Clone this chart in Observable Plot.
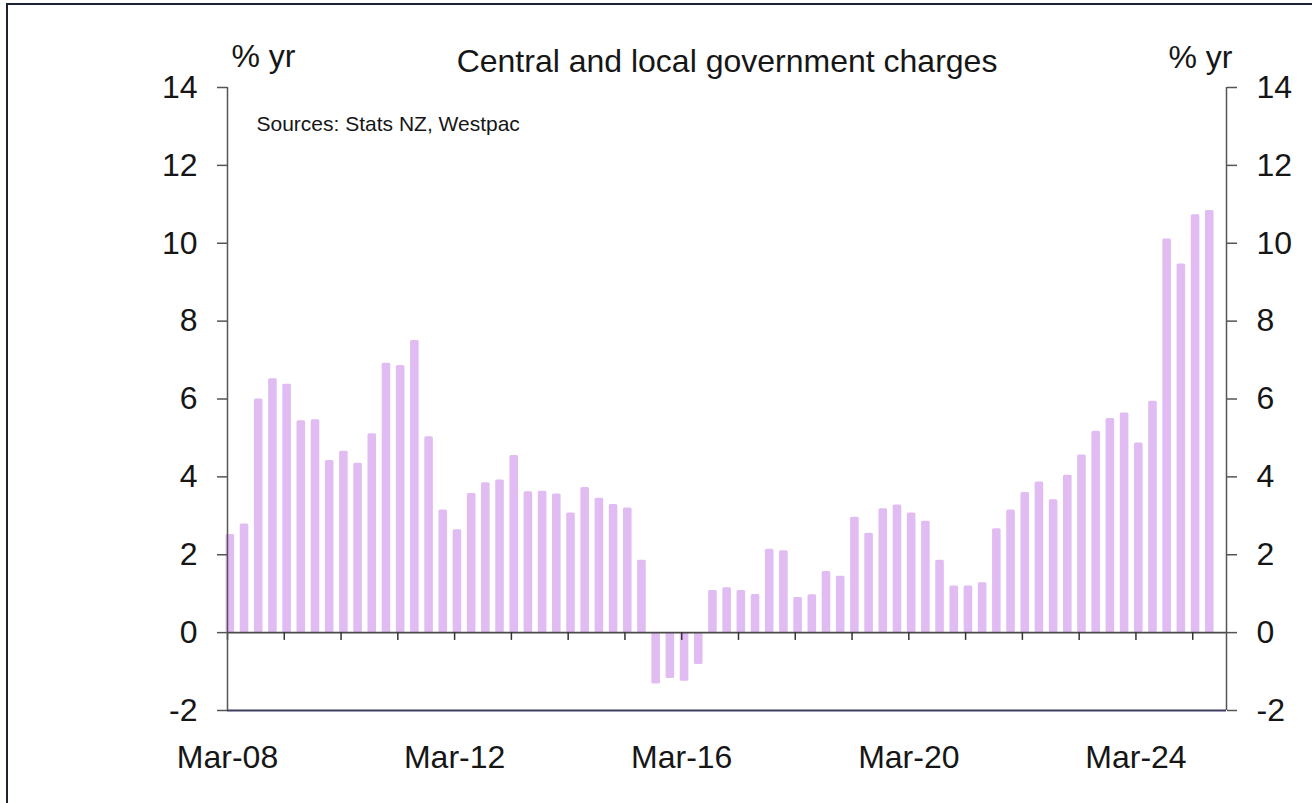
<!DOCTYPE html>
<html>
<head>
<meta charset="utf-8">
<script src="https://cdn.jsdelivr.net/npm/d3@7"></script>
<script src="https://cdn.jsdelivr.net/npm/@observablehq/plot@0.6"></script>
<style>
  html, body { margin: 0; padding: 0; background: #fff; }
  #wrap { position: relative; width: 1312px; height: 803px; overflow: hidden; }
  #border { position: absolute; left: 6px; top: 3px; right: -10px; bottom: -10px;
            border-top: 2.5px solid #1c2135; border-left: 2.5px solid #1c2135; pointer-events: none; }
  svg { display: block; }
</style>
</head>
<body>
<div id="wrap"><div id="chart"></div><div id="border"></div></div>
<script>
// ---- Data ----
const title = "Central and local government charges";
const unitLabel = "% yr";
const sourceNote = "Sources: Stats NZ, Westpac";
const firstYear = 2008;           // first quarter is Mar-08
const quarterMonths = ["Mar", "Jun", "Sep", "Dec"];
// annual % change, quarterly, Mar-08 .. Jun-25
const values = [
  2.52, 2.79, 6.00, 6.52, 6.38, 5.44, 5.47, 4.42, 4.66, 4.35,
  5.11, 6.92, 6.86, 7.50, 5.03, 3.15, 2.64, 3.57, 3.85, 3.92,
  4.55, 3.62, 3.63, 3.56, 3.07, 3.73, 3.45, 3.29, 3.20, 1.86,
  -1.32, -1.18, -1.25, -0.82, 1.08, 1.15, 1.08, 0.98, 2.14, 2.10,
  0.90, 0.97, 1.57, 1.45, 2.96, 2.55, 3.18, 3.28, 3.07, 2.86,
  1.86, 1.20, 1.20, 1.28, 2.67, 3.15, 3.60, 3.87, 3.41, 4.04,
  4.56, 5.17, 5.50, 5.64, 4.87, 5.94, 10.11, 9.47, 10.73, 10.84
];
const yTicks = [-2, 0, 2, 4, 6, 8, 10, 12, 14];
const xTickLabels = ["Mar-08", "Mar-12", "Mar-16", "Mar-20", "Mar-24"];

// ---- Build table ----
const quarters = values.map((v, i) =>
  quarterMonths[i % 4] + "-" + String((firstYear + Math.floor(i / 4)) % 100).padStart(2, "0"));
const rows = values.map((v, i) => ({i, label: quarters[i], v}));
const tickShift = -0.2;                       // axis ticks sit just left of bar centres
const yearTicks = rows.filter(d => d.i % 4 === 0).map(d => d.i + tickShift);
const labelRows = xTickLabels.map(l => ({label: l, x: quarters.indexOf(l) + tickShift}));

const font = "'Liberation Sans', Arial, Helvetica, sans-serif";
const ink = "#161616";
const axisGray = "#555";
const fmt = d => String(d);

const chart = Plot.plot({
  width: 1312,
  height: 803,
  marginLeft: 227,
  marginRight: 86,
  marginTop: 87,
  marginBottom: 93,
  x: {domain: [tickShift, values.length + 0.18], axis: null, label: null},
  y: {domain: [-2, 14], axis: null, label: null},
  style: {fontFamily: font, background: "transparent", overflow: "visible", color: ink},
  marks: [
    // bars
    Plot.rectY(rows, {
      x1: d => d.i - 0.5, x2: d => d.i + 0.5, y1: 0, y2: "v",
      insetLeft: 2.8, insetRight: 2.8, fill: "#e1bcf3", rx: 1.5
    }),
    // zero line
    Plot.ruleY([0], {stroke: "#4a4a4a", strokeWidth: 1.6}),
    // year ticks below zero line
    Plot.ruleX(yearTicks, {x: d => d, y1: 0, y2: -0.2, stroke: "#333", strokeWidth: 1.5}),
    // left/right axis lines
    Plot.ruleX([tickShift, values.length + 0.18], {y1: -2, y2: 14, stroke: axisGray, strokeWidth: 1.5}),
    // bottom line at -2
    Plot.ruleY([-2], {stroke: "#3d3d5e", strokeWidth: 2}),
    // y tick marks
    Plot.axisY(yTicks, {anchor: "left", label: null, tickSize: 10, tickFormat: () => "", stroke: axisGray, strokeWidth: 1.5}),
    Plot.axisY(yTicks, {anchor: "right", label: null, tickSize: 10, tickFormat: () => "", stroke: axisGray, strokeWidth: 1.5}),
    // y tick labels
    Plot.axisY(yTicks, {anchor: "left", label: null, tickSize: 0, tickPadding: 30, tickFormat: fmt, fontSize: 32, color: ink, fontFamily: font}),
    Plot.axisY(yTicks, {anchor: "right", label: null, tickSize: 0, tickPadding: 30, tickFormat: fmt, fontSize: 32, color: ink, fontFamily: font}),
    // x labels
    Plot.text(labelRows, {x: "x", text: "label", frameAnchor: "bottom", lineAnchor: "bottom", dy: 57,
      fontSize: 32, fill: ink, textAnchor: "middle"}),
    // title and units
    Plot.text([title], {frameAnchor: "top", lineAnchor: "bottom", dy: -16, fontSize: 32, fill: ink}),
    Plot.text([unitLabel], {frameAnchor: "top-left", textAnchor: "start", lineAnchor: "bottom", dx: 4, dy: -21, fontSize: 32, fill: ink}),
    Plot.text([unitLabel], {frameAnchor: "top-right", textAnchor: "end", lineAnchor: "bottom", dx: 6, dy: -20, fontSize: 32, fill: ink}),
    Plot.text([sourceNote], {frameAnchor: "top-left", textAnchor: "start", lineAnchor: "bottom", dx: 29, dy: 43, fontSize: 21, fill: ink})
  ]
});
document.getElementById("chart").appendChild(chart);
</script>
</body>
</html>
